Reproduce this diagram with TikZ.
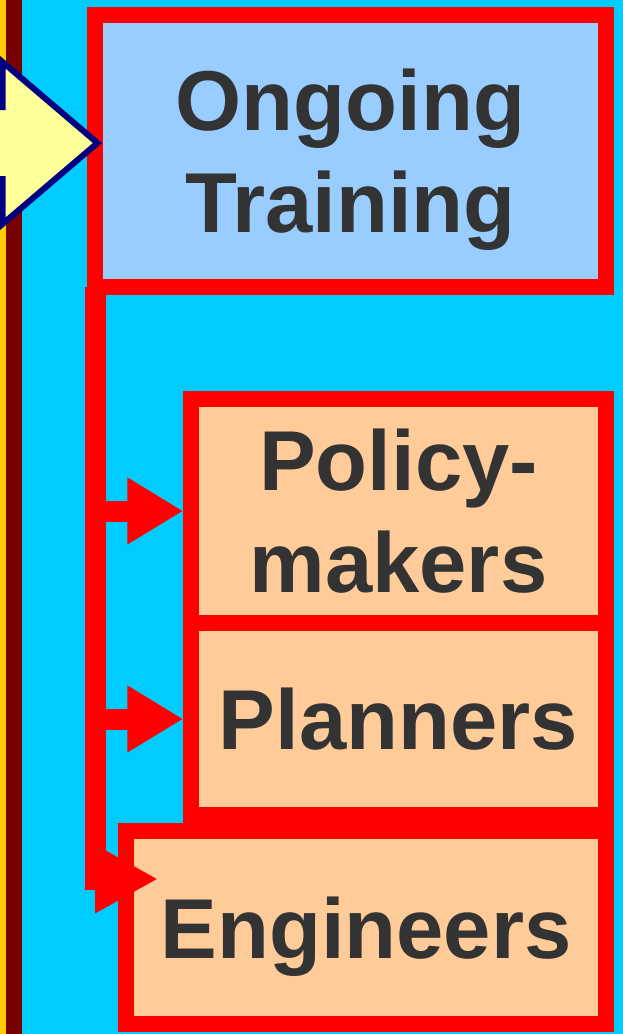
\documentclass[tikz,border=0pt]{standalone}
\usepackage{fontspec}
\setmainfont{Liberation Sans}
\usetikzlibrary{arrows.meta}
\definecolor{sky}{HTML}{00CCFF}
\definecolor{gold}{HTML}{FFCC00}
\definecolor{maroon}{HTML}{770000}
\definecolor{boxred}{HTML}{FF0000}
\definecolor{paleblue}{HTML}{99CCFF}
\definecolor{peach}{HTML}{FFCC99}
\definecolor{paleyellow}{HTML}{FFFF99}
\definecolor{navy}{HTML}{000080}
\definecolor{textgrey}{HTML}{333333}

\begin{document}
\begin{tikzpicture}[x=1pt,y=-1pt,
  any_box/.style={rectangle,draw=boxred,line width=15.5pt,align=center,text=textgrey,
    text depth=0pt,font=\fontsize{85}{102}\selectfont\bfseries},
  train_box/.style={any_box,fill=paleblue,outer sep=0pt,minimum width=511pt,minimum height=272pt},
  group_box/.style={any_box,fill=peach,minimum width=415pt},
  feed_line/.style={draw=boxred,line width=21pt,-{Triangle[length=56pt,width=63pt]}}]

	\useasboundingbox (0,0) rectangle (623,1034);
	\clip (0,0) rectangle (623,1034);
	\fill[sky] (0,0) rectangle (623,1034);
	\fill[gold] (0,0) rectangle (6,1034);
	\fill[maroon] (6,0) rectangle (22,1034);

	\node[train_box] (train) at (350.5,151) {Ongoing\\Training};
	\node[group_box,minimum height=224pt] (policy) at (398.5,511) {Policy-\\makers};
	\node[group_box,minimum height=192pt] (planners) at (398.5,719) {Planners};
	\node[group_box,minimum width=480pt,minimum height=193pt] (engineers) at (366,927.5) {Engineers};
	\coordinate (eng_tip) at (158,879);

	\draw[navy,fill=paleyellow,line width=6pt,line join=miter]
		(-30,107) -- (2.5,107) -- (2.5,62) -- (97.5,143) -- (2.5,224) -- (2.5,179) -- (-30,179) -- cycle;

	\draw[feed_line] (policy.west -| train.south west) -- (policy.west);
	\draw[feed_line] (planners.west -| train.south west) -- (planners.west);
	\draw[feed_line,-{Triangle[length=63pt,width=64pt]}] (train.south west) |- (eng_tip);
\end{tikzpicture}
\end{document}
